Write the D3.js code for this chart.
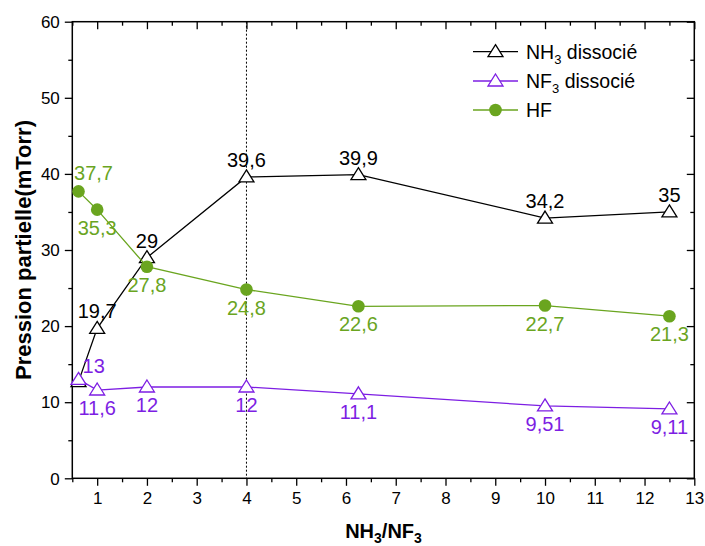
<!DOCTYPE html>
<html>
<head>
<meta charset="utf-8">
<script src="https://cdn.jsdelivr.net/npm/d3@7"></script>
<style>
  html, body { margin: 0; padding: 0; background: #fff; }
  svg { display: block; font-family: "Liberation Sans", Arial, sans-serif; }
</style>
</head>
<body>
<svg id="chart" width="705" height="546"></svg>
<script>
// ---- data ----
const ratio = [0.625, 1, 2, 4, 6.25, 10, 12.5];
const nh3 = [12.7, 19.7, 29, 39.6, 39.9, 34.2, 35];
const nf3 = [13, 11.6, 12, 12, 11.1, 9.51, 9.11];
const hf = [37.7, 35.3, 27.8, 24.8, 22.6, 22.7, 21.3];
const nh3Labels = ["", "19,7", "29", "39,6", "39,9", "34,2", "35"];
const nf3Labels = ["13", "11,6", "12", "12", "11,1", "9,51", "9,11"];
const hfLabels = ["37,7", "35,3", "27,8", "24,8", "22,6", "22,7", "21,3"];
const xTicks = [1, 2, 3, 4, 5, 6, 7, 8, 9, 10, 11, 12, 13];
const yTicks = [0, 10, 20, 30, 40, 50, 60];
const markerLine = 4;

// ---- layout / style ----
const svg = d3.select("#chart");
const L = 72.3, R = 694.3, T = 21.7, B = 478.3;
const x = d3.scaleLinear().domain([0.5, 13]).range([L, R]);
const y = d3.scaleLinear().domain([0, 60]).range([B, T]);
const C = { nh3: "#000000", nf3: "#7d1ee3", hf: "#6aa51f" };

const halfTicks = d3.range(0.5, 13.01, 0.5);
const fiveTicks = d3.range(0, 60.01, 5);

// bottom ticks outward
svg.append("g").attr("transform", `translate(0,${B})`)
  .call(d3.axisBottom(x).tickValues(halfTicks.filter(v => v % 1 !== 0)).tickSize(4).tickFormat(""))
  .call(g => g.select(".domain").remove());
svg.append("g").attr("transform", `translate(0,${B})`)
  .call(d3.axisBottom(x).tickValues(xTicks).tickSize(7.5).tickPadding(6).tickFormat(d3.format("d")))
  .call(g => g.select(".domain").remove())
  .call(g => g.selectAll("text").attr("font-size", 17).attr("font-family", "Liberation Sans, Arial, sans-serif"));
// left ticks outward
svg.append("g").attr("transform", `translate(${L},0)`)
  .call(d3.axisLeft(y).tickValues(fiveTicks.filter(v => v % 10 !== 0)).tickSize(4).tickFormat(""))
  .call(g => g.select(".domain").remove());
svg.append("g").attr("transform", `translate(${L},0)`)
  .call(d3.axisLeft(y).tickValues(yTicks).tickSize(7.5).tickPadding(5).tickFormat(d3.format("d")))
  .call(g => g.select(".domain").remove())
  .call(g => g.selectAll("text").attr("font-size", 17).attr("dy", "0.34em").attr("font-family", "Liberation Sans, Arial, sans-serif"));
// top ticks inward
svg.append("g").attr("transform", `translate(0,${T})`)
  .call(d3.axisBottom(x).tickValues(halfTicks).tickSize(0).tickFormat(""))
  .call(g => g.select(".domain").remove())
  .call(g => g.selectAll(".tick line").attr("y2", d => (d % 1 === 0 ? 7.5 : 4)));
// right ticks inward
svg.append("g").attr("transform", `translate(${R},0)`)
  .call(d3.axisLeft(y).tickValues(fiveTicks).tickSize(0).tickFormat(""))
  .call(g => g.select(".domain").remove())
  .call(g => g.selectAll(".tick line").attr("x2", d => (d % 10 === 0 ? -7.5 : -4)));
svg.selectAll(".tick line").attr("stroke-width", 1.3);

// frame
svg.append("rect").attr("x", L).attr("y", T).attr("width", R - L).attr("height", B - T)
  .attr("fill", "none").attr("stroke", "#000").attr("stroke-width", 1.5);

// dotted vertical line
svg.append("line").attr("x1", x(markerLine)).attr("x2", x(markerLine))
  .attr("y1", T).attr("y2", B).attr("stroke", "#000").attr("stroke-width", 1)
  .attr("stroke-dasharray", "2,2");

// series
const tri = "M0,-7L7.5,5L-7.5,5Z";
function series(vals, color, marker) {
  const pts = ratio.map((r, i) => [x(r), y(vals[i])]);
  const g = svg.append("g");
  g.append("path").attr("d", d3.line()(pts)).attr("fill", "none")
    .attr("stroke", color).attr("stroke-width", 1.3);
  pts.forEach(p => {
    if (marker === "tri") {
      g.append("path").attr("d", tri).attr("transform", `translate(${p[0]},${p[1]})`)
        .attr("fill", "#fff").attr("stroke", color).attr("stroke-width", 1.3);
    } else {
      g.append("circle").attr("cx", p[0]).attr("cy", p[1]).attr("r", 6.3).attr("fill", color);
    }
  });
  return pts;
}
const pN = series(nh3, C.nh3, "tri");
const pF = series(nf3, C.nf3, "tri");
const pH = series(hf, C.hf, "circle");

// labels
function labels(pts, texts, color, place) {
  pts.forEach((p, i) => {
    if (!texts[i]) return;
    const pl = place(i);
    svg.append("text").attr("x", p[0] + pl.dx).attr("y", p[1] + pl.dy)
      .attr("text-anchor", pl.anchor || "middle").attr("font-size", 20)
      .attr("fill", color).text(texts[i]);
  });
}
labels(pN, nh3Labels, C.nh3, i => ({ dx: 0, dy: -10 }));
labels(pF, nf3Labels, C.nf3, i => i === 0 ? { dx: 4, dy: -6, anchor: "start" } : { dx: 0, dy: 25 });
labels(pH, hfLabels, C.hf, i => i === 0 ? { dx: 15, dy: -11 } : { dx: 0, dy: 25 });

// axis titles
const xt = svg.append("text").attr("x", 383.5).attr("y", 538).attr("text-anchor", "middle")
  .attr("font-size", 20).attr("font-weight", "bold");
xt.append("tspan").text("NH");
xt.append("tspan").attr("font-size", 14).attr("dy", 5).text("3");
xt.append("tspan").attr("dy", -5).text("/NF");
xt.append("tspan").attr("font-size", 14).attr("dy", 5).text("3");

svg.append("text").attr("transform", "translate(31,250) rotate(-90)")
  .attr("text-anchor", "middle").attr("font-size", 22).attr("font-weight", "bold")
  .text("Pression partielle(mTorr)");

// legend
const legend = [
  { name: "NH", sub: "3", rest: " dissocié", color: C.nh3, m: "tri" },
  { name: "NF", sub: "3", rest: " dissocié", color: C.nf3, m: "tri" },
  { name: "HF", sub: "", rest: "", color: C.hf, m: "circle" }
];
const ly = [51.7, 81, 110];
legend.forEach((d, i) => {
  const g = svg.append("g").attr("transform", `translate(0,${ly[i]})`);
  g.append("line").attr("x1", 473).attr("x2", 518).attr("stroke", d.color).attr("stroke-width", 1.3);
  if (d.m === "tri") g.append("path").attr("d", tri).attr("transform", "translate(495.5,0)")
    .attr("fill", "#fff").attr("stroke", d.color).attr("stroke-width", 1.3);
  else g.append("circle").attr("cx", 495.5).attr("r", 6.3).attr("fill", d.color);
  const t = g.append("text").attr("x", 526).attr("y", 7).attr("font-size", 19.5).attr("fill", "#000");
  t.append("tspan").text(d.name);
  if (d.sub) {
    t.append("tspan").attr("font-size", 13).attr("dy", 5).text(d.sub);
    t.append("tspan").attr("dy", -5).text(d.rest);
  }
});
</script>
</body>
</html>
